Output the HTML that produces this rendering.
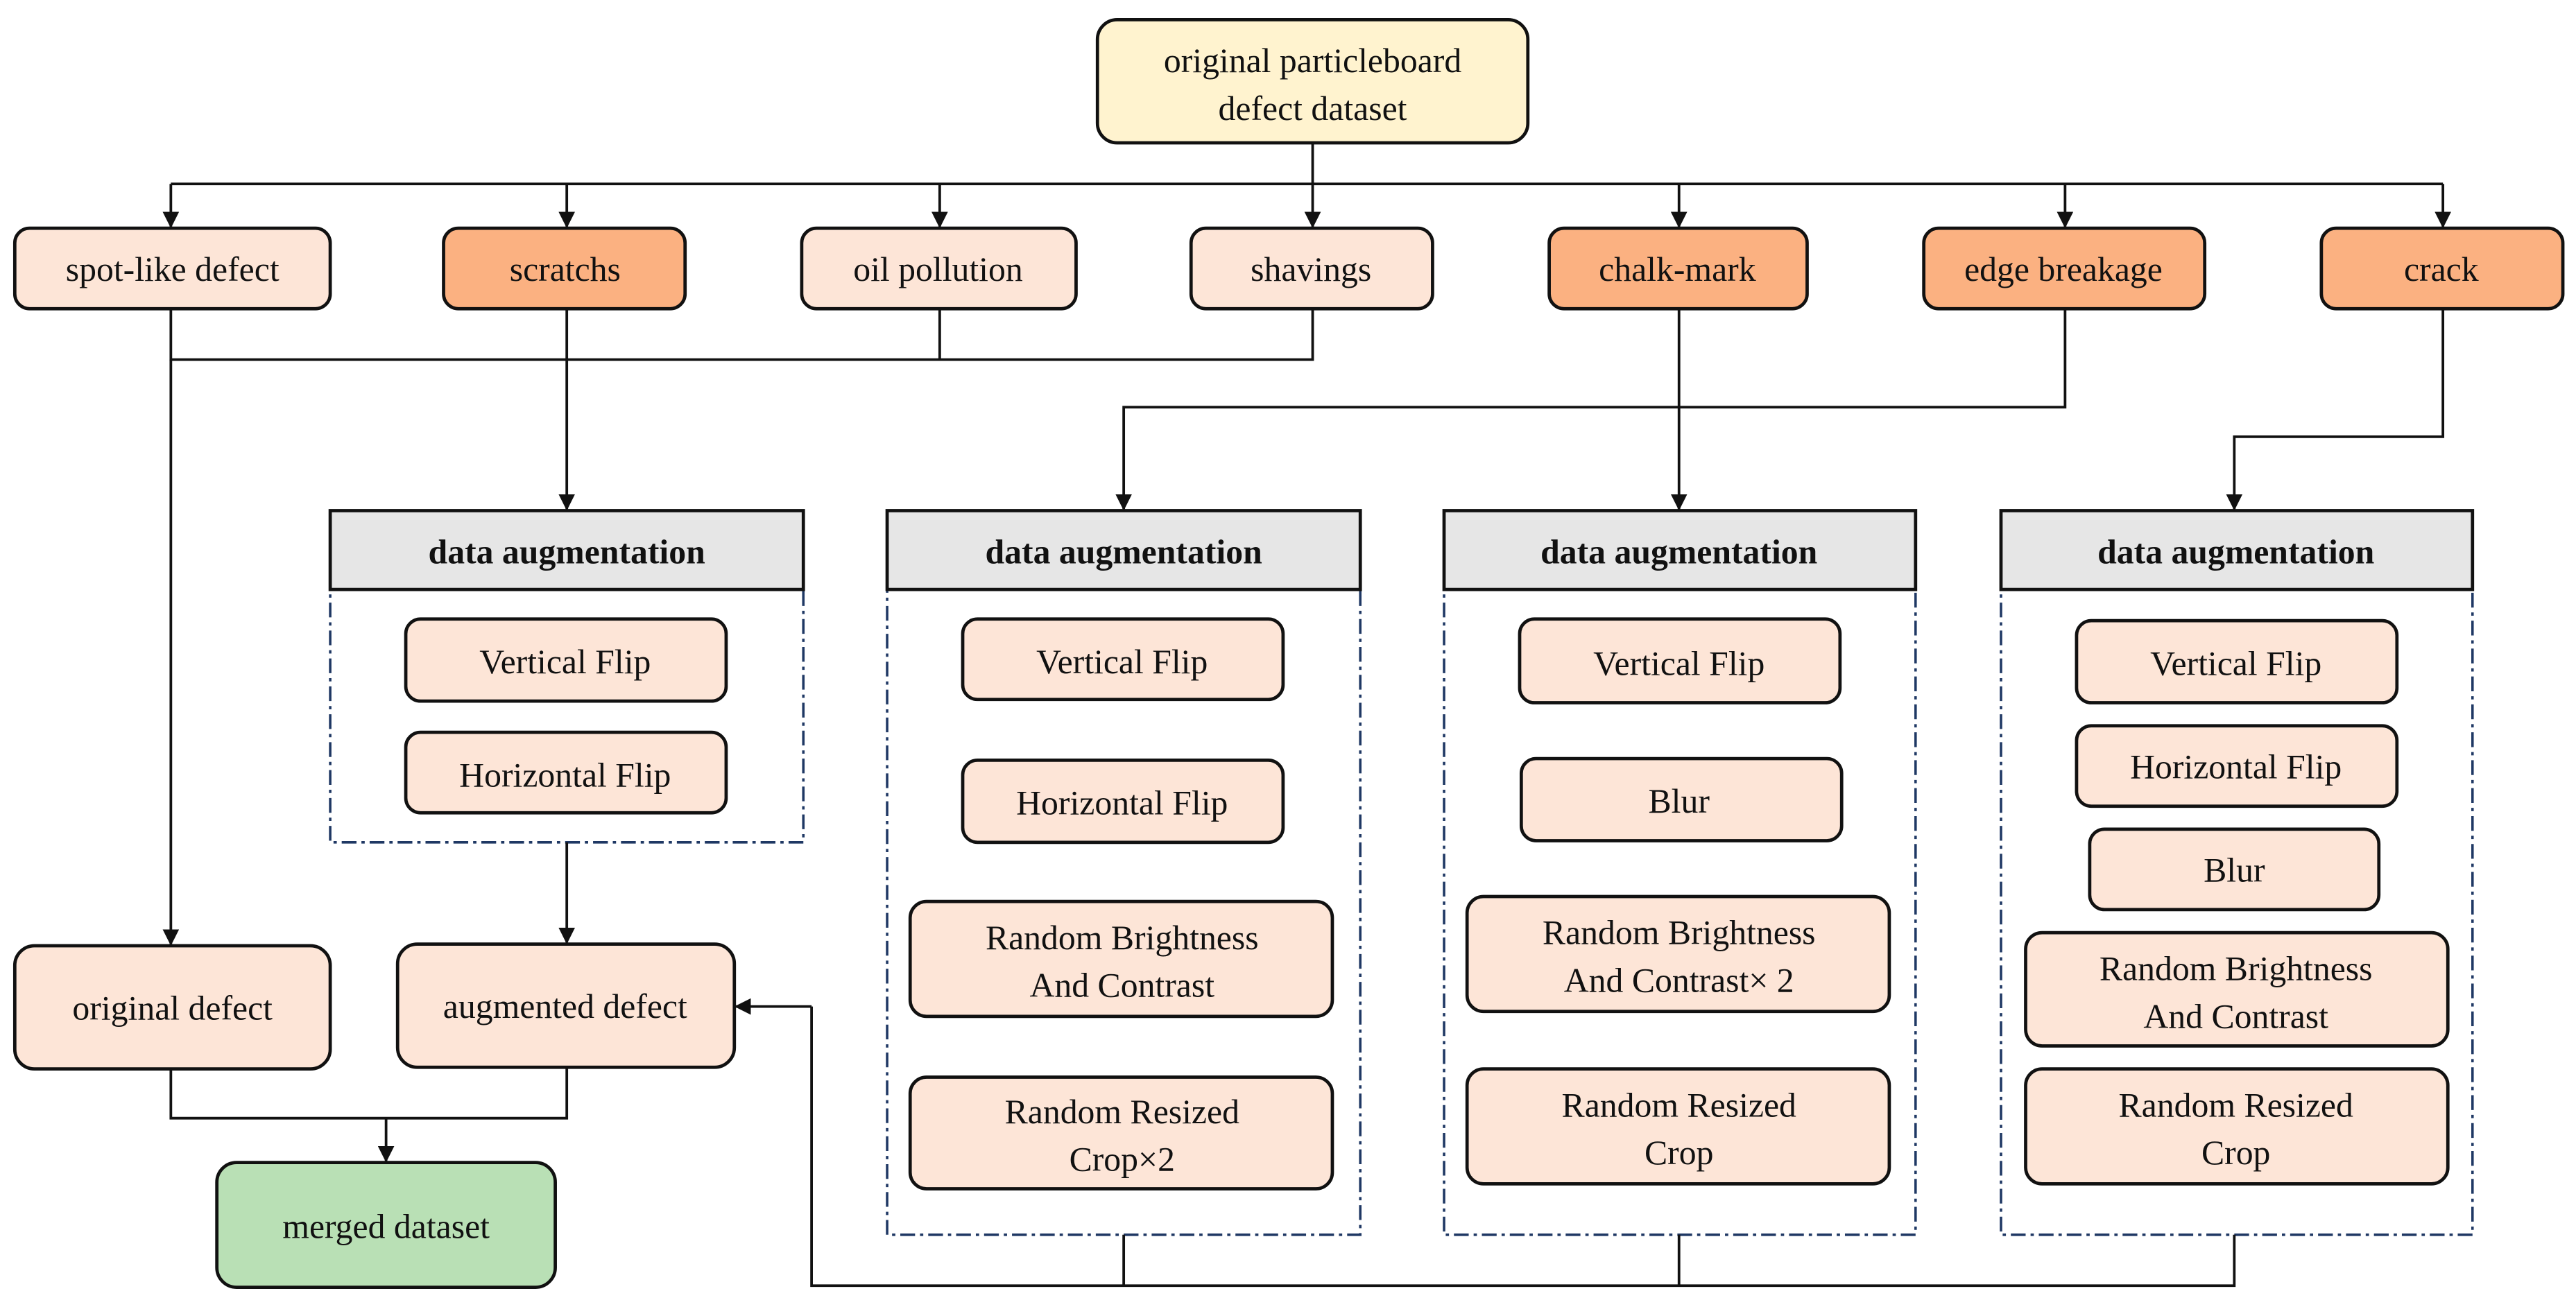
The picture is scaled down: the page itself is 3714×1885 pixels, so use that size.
<!DOCTYPE html>
<html><head><meta charset="utf-8"><style>
html,body{margin:0;padding:0;background:#fff;}
svg{display:block;}
svg text{font-family:'Liberation Serif','Times New Roman',Times,serif;font-size:21px;fill:#111;text-anchor:middle;}
.b{fill:#FDE5D7;stroke:#111;stroke-width:2;}
.o{fill:#FBB181;stroke:#111;stroke-width:2;}
.l{fill:none;stroke:#111;stroke-width:1.6;}
.d{fill:none;stroke:#1F3864;stroke-width:1.5;stroke-dasharray:9,3,2,3;}
.h{fill:#E6E6E6;stroke:#111;stroke-width:2;}
svg text.hb{font-weight:bold;}
</style></head><body>
<svg width="3714" height="1885" viewBox="0 0 1568 796" preserveAspectRatio="none" xmlns="http://www.w3.org/2000/svg" font-family="'Liberation Serif','Times New Roman',Times,serif">
<defs><marker id="a" markerWidth="10" markerHeight="10" refX="9" refY="5" orient="auto" markerUnits="userSpaceOnUse"><path d="M0,0 L10,5 L0,10 z" fill="#111"/></marker></defs>
<rect x="668" y="12" width="262" height="75" rx="12" fill="#FFF3CF" stroke="#111" stroke-width="2"/>
<text x="799" y="44">original particleboard</text>
<text x="799" y="73">defect dataset</text>
<path class="l" d="M799 87 V112 M104 112 H1487"/>
<path class="l" d="M104 112 V138" marker-end="url(#a)"/><path class="l" d="M345 112 V138" marker-end="url(#a)"/><path class="l" d="M572 112 V138" marker-end="url(#a)"/><path class="l" d="M799 112 V138" marker-end="url(#a)"/><path class="l" d="M1022 112 V138" marker-end="url(#a)"/><path class="l" d="M1257 112 V138" marker-end="url(#a)"/><path class="l" d="M1487 112 V138" marker-end="url(#a)"/>
<rect class="b" x="9" y="139" width="192" height="49" rx="9"/><text x="105" y="171">spot-like defect</text>
<rect class="o" x="270" y="139" width="147" height="49" rx="9"/><text x="344" y="171">scratchs</text>
<rect class="b" x="488" y="139" width="167" height="49" rx="9"/><text x="571" y="171">oil pollution</text>
<rect class="b" x="725" y="139" width="147" height="49" rx="9"/><text x="798" y="171">shavings</text>
<rect class="o" x="943" y="139" width="157" height="49" rx="9"/><text x="1021" y="171">chalk-mark</text>
<rect class="o" x="1171" y="139" width="171" height="49" rx="9"/><text x="1256" y="171">edge breakage</text>
<rect class="o" x="1413" y="139" width="147" height="49" rx="9"/><text x="1486" y="171">crack</text>
<path class="l" d="M104 188 V219 H799 V188 M572 188 V219"/>
<path class="l" d="M104 219 V575" marker-end="url(#a)"/>
<path class="l" d="M345 188 V310" marker-end="url(#a)"/>
<path class="l" d="M1257 188 V248 H684 V310" marker-end="url(#a)"/>
<path class="l" d="M1022 188 V310" marker-end="url(#a)"/>
<path class="l" d="M1487 188 V266 H1360 V310" marker-end="url(#a)"/>
<rect class="d" x="201" y="359" width="288" height="154"/>
<rect class="h" x="201" y="311" width="288" height="48"/><text class="hb" x="345" y="343">data augmentation</text>
<rect class="d" x="540" y="359" width="288" height="393"/>
<rect class="h" x="540" y="311" width="288" height="48"/><text class="hb" x="684" y="343">data augmentation</text>
<rect class="d" x="879" y="359" width="287" height="393"/>
<rect class="h" x="879" y="311" width="287" height="48"/><text class="hb" x="1022" y="343">data augmentation</text>
<rect class="d" x="1218" y="359" width="287" height="393"/>
<rect class="h" x="1218" y="311" width="287" height="48"/><text class="hb" x="1361" y="343">data augmentation</text>
<rect class="b" x="247" y="377" width="195" height="50" rx="9"/><text x="344" y="410">Vertical Flip</text>
<rect class="b" x="247" y="446" width="195" height="49" rx="9"/><text x="344" y="479">Horizontal Flip</text>
<rect class="b" x="586" y="377" width="195" height="49" rx="9"/><text x="683" y="410">Vertical Flip</text>
<rect class="b" x="586" y="463" width="195" height="50" rx="9"/><text x="683" y="496">Horizontal Flip</text>
<rect class="b" x="554" y="549" width="257" height="70" rx="10"/><text x="683" y="578">Random Brightness</text><text x="683" y="607">And Contrast</text>
<rect class="b" x="554" y="656" width="257" height="68" rx="10"/><text x="683" y="684">Random Resized</text><text x="683" y="713">Crop×2</text>
<rect class="b" x="925" y="377" width="195" height="51" rx="9"/><text x="1022" y="411">Vertical Flip</text>
<rect class="b" x="926" y="462" width="195" height="50" rx="9"/><text x="1022" y="495">Blur</text>
<rect class="b" x="893" y="546" width="257" height="70" rx="10"/><text x="1022" y="575">Random Brightness</text><text x="1022" y="604">And Contrast× 2</text>
<rect class="b" x="893" y="651" width="257" height="70" rx="10"/><text x="1022" y="680">Random Resized</text><text x="1022" y="709">Crop</text>
<rect class="b" x="1264" y="378" width="195" height="50" rx="9"/><text x="1361" y="411">Vertical Flip</text>
<rect class="b" x="1264" y="442" width="195" height="49" rx="9"/><text x="1361" y="474">Horizontal Flip</text>
<rect class="b" x="1272" y="505" width="176" height="49" rx="9"/><text x="1360" y="537">Blur</text>
<rect class="b" x="1233" y="568" width="257" height="69" rx="10"/><text x="1361" y="597">Random Brightness</text><text x="1361" y="626">And Contrast</text>
<rect class="b" x="1233" y="651" width="257" height="70" rx="10"/><text x="1361" y="680">Random Resized</text><text x="1361" y="709">Crop</text>
<path class="l" d="M345 513 V574" marker-end="url(#a)"/>
<rect class="b" x="9" y="576" width="192" height="75" rx="12"/><text x="105" y="621">original defect</text>
<rect class="b" x="242" y="575" width="205" height="75" rx="12"/><text x="344" y="620">augmented defect</text>
<path class="l" d="M104 651 V681 H345 V650"/>
<path class="l" d="M235 681 V707" marker-end="url(#a)"/>
<rect x="132" y="708" width="206" height="76" rx="12" fill="#B9E0B5" stroke="#111" stroke-width="2"/><text x="235" y="754">merged dataset</text>
<path class="l" d="M684 752 V783 M1022 752 V783 M1360 752 V783 H494 V613"/>
<path class="l" d="M494 613 H448" marker-end="url(#a)"/>
</svg>
</body></html>
